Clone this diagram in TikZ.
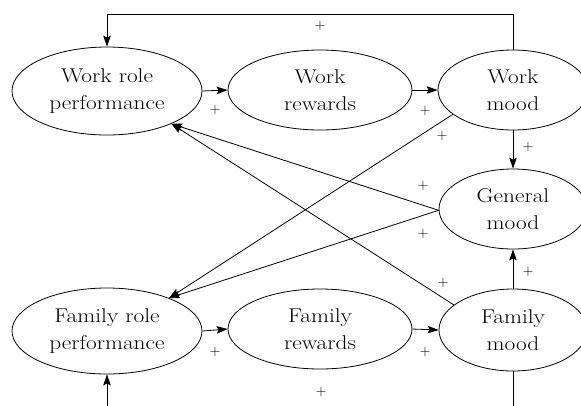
\documentclass[tikz,border=0pt]{standalone}
\usepackage{fontspec}
\setmainfont[FakeStretch=1.17]{Latin Modern Roman}
\usetikzlibrary{shapes.geometric,arrows.meta}
\begin{document}
\begin{tikzpicture}[x=1bp,y=-1bp,
  box/.style={draw,ellipse,inner sep=0pt,align=center,line width=0.8bp,
    font=\fontsize{20}{27}\selectfont},
  arr/.style={-{Stealth[length=11bp,width=7.5bp,inset=2bp]},line width=0.8bp},
  lbl/.style={font=\fontsize{15}{15}\selectfont,inner sep=0pt}]
\useasboundingbox (0,0) rectangle (581,405);
% nodes
\node[box,minimum width=190bp,minimum height=88bp] (wrp) at (107,91) {Work role\\performance};
\node[box,minimum width=184bp,minimum height=80bp] (wr) at (320,90) {Work\\rewards};
\node[box,minimum width=150bp,minimum height=80bp] (wm) at (513,90) {Work\\mood};
\node[box,minimum width=148bp,minimum height=80bp] (gm) at (513,209) {General\\mood};
\node[box,minimum width=190bp,minimum height=86bp] (frp) at (107,331) {Family role\\performance};
\node[box,minimum width=184bp,minimum height=80bp] (fr) at (320,329) {Family\\rewards};
\node[box,minimum width=148bp,minimum height=82bp] (fm) at (513,330) {Family\\mood};
\coordinate (top) at (0,14);
\coordinate (bot) at (0,409);
% connectors
\draw[arr] (wm.north) -- (wm.north |- top) -| (wrp.north);
\draw[arr] (fm.south) -- (fm.south |- bot) -| (frp.south);
\draw[arr] (wrp.east) -- (wr.west);
\draw[arr] (wr.east) -- (wm.west);
\draw[arr] (frp.east) -- (fr.west);
\draw[arr] (fr.east) -- (fm.west);
\draw[arr] (wm.south) -- (gm.north);
\draw[arr] (fm.north) -- (gm.south);
\draw[arr] (wm.202) -- (frp.28);
\draw[arr] (gm.181) -- (frp.28);
\draw[arr] (gm.181) -- (wrp.333);
\draw[arr] (fm.157) -- (wrp.333);
% labels
\node[lbl] (p1) at (320,26) {$+$};
\node[lbl] (p2) at (215,110) {$+$};
\node[lbl] (p3) at (425,111) {$+$};
\node[lbl] (p4) at (528,147) {$+$};
\node[lbl] (p5) at (442,136) {$+$};
\node[lbl] (p6) at (423,186) {$+$};
\node[lbl] (p7) at (423,234) {$+$};
\node[lbl] (p8) at (443,283) {$+$};
\node[lbl] (p9) at (528,272) {$+$};
\node[lbl] (p10) at (215,352) {$+$};
\node[lbl] (p11) at (425,352) {$+$};
\node[lbl] (p12) at (321,392) {$+$};
\end{tikzpicture}
\end{document}
